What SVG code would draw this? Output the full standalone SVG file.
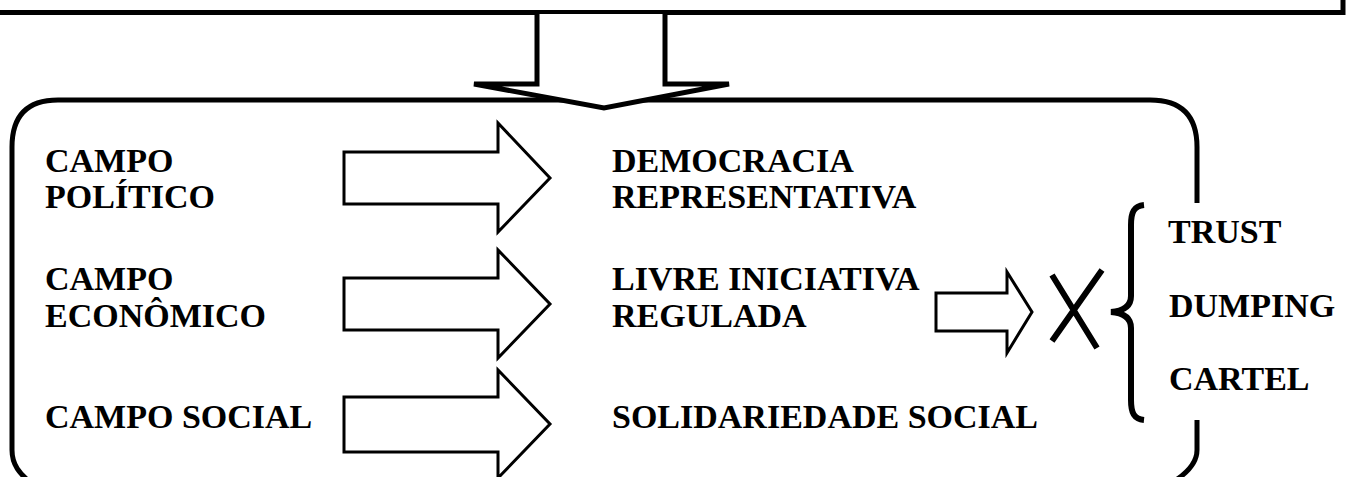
<svg xmlns="http://www.w3.org/2000/svg" width="1352" height="477" viewBox="0 0 1352 477">
<style>
text{font-family:"Liberation Serif","Times New Roman",serif;font-weight:bold;font-size:34px;fill:#000}
.ln{fill:none;stroke:#000;stroke-width:5}
.ar{fill:#fff;stroke:#000;stroke-width:3;stroke-linejoin:miter}
</style>
<rect width="1352" height="477" fill="#fff"/>
<g id="top-frame">
<path class="ln" d="M0,12.5 L1343,12.5 L1343,0"/>
</g>
<g id="main-box">
<path class="ln" d="M1197,203 L1197,147 Q1197,100 1150,100 L58,100 Q12,100 12,147 L12,450 C12,465 20,474 30,482"/>
<path class="ln" d="M1197,420 L1197,450 C1197,462 1188,472 1176,480"/>
</g>
<g id="connectors">
<path d="M537,14 L537,84 L474,84 L604,108 L729,84 L665,84 L665,14" fill="#fff" stroke="#000" stroke-width="5"/>
<polygon class="ar" points="344,152 498,152 498,123 550,178 498,232 498,204 344,204"/>
<polygon class="ar" points="344,278 498,278 498,250 550,304 498,358 498,330 344,330"/>
<polygon class="ar" points="344,397 498,397 498,370 550,424 498,478 498,452 344,452"/>
<polygon class="ar" points="936,293 1007,293 1007,272 1032,312 1007,353 1007,331 936,331"/>
</g>
<g id="x-mark">
<path d="M1052,275 L1097,348 M1102,270 L1052,341" stroke="#000" stroke-width="6" fill="none"/>
</g>
<g id="brace">
<path d="M1144,205 C1134,206 1131,212 1131,225 L1131,296 C1131,306 1124,311 1111,312 C1124,313 1131,318 1131,328 L1131,400 C1131,413 1134,419 1144,420" fill="none" stroke="#000" stroke-width="6"/>
</g>
<g id="campo-politico"><text x="45" y="172">CAMPO</text><text x="45" y="208">POLÍTICO</text></g>
<g id="campo-economico"><text x="45" y="290">CAMPO</text><text x="45" y="327">ECONÔMICO</text></g>
<g id="campo-social"><text x="45" y="428">CAMPO SOCIAL</text></g>
<g id="democracia"><text x="612" y="172">DEMOCRACIA</text><text x="612" y="208">REPRESENTATIVA</text></g>
<g id="livre-iniciativa"><text x="612" y="290">LIVRE INICIATIVA</text><text x="612" y="327">REGULADA</text></g>
<g id="solidariedade"><text x="612" y="428">SOLIDARIEDADE SOCIAL</text></g>
<g id="trust"><text x="1168" y="243">TRUST</text></g>
<g id="dumping"><text x="1169" y="317">DUMPING</text></g>
<g id="cartel"><text x="1169" y="390">CARTEL</text></g>
</svg>
